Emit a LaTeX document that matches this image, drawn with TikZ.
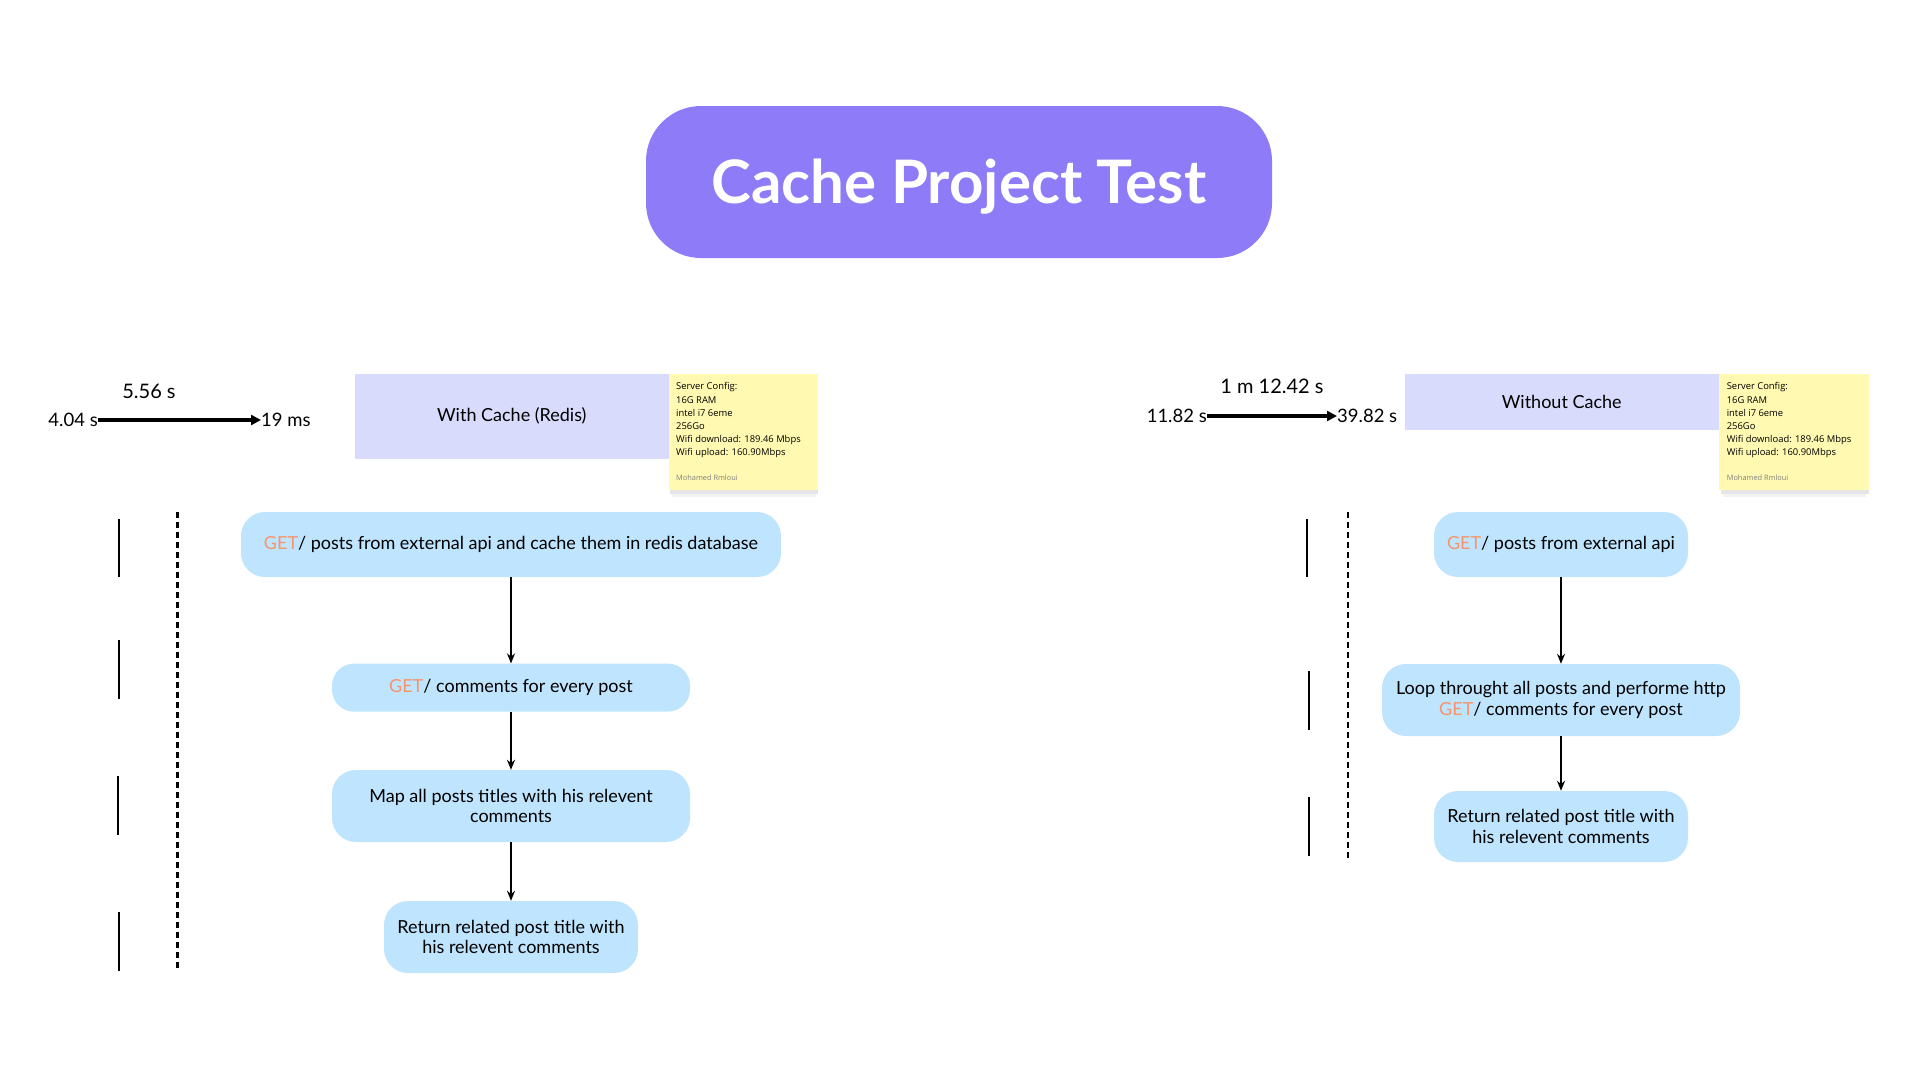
\documentclass[tikz,border=0pt]{standalone}
\usepackage{fontspec}
\setmainfont{Lato}
\newfontfamily\notefont{Open Sans}
\usetikzlibrary{arrows.meta}
\definecolor{titlepurple}{HTML}{8E7BF8}
\definecolor{lavender}{HTML}{D9DBFC}
\definecolor{flowblue}{HTML}{BFE4FD}
\definecolor{noteyellow}{HTML}{FFF9B1}
\definecolor{getorange}{HTML}{F6956B}
\newcommand{\getw}{\textcolor{getorange}{GET}}
\begin{document}
\begin{tikzpicture}[x=1pt,y=-1pt,
  flowbox/.style={fill=flowblue, rounded corners=24pt, align=center, inner sep=0pt, font=\fontsize{18}{20.5}\selectfont},
  flowarrow/.style={-{Stealth[length=10pt,width=8pt]}, line width=2.3pt},
  timearrow/.style={-{Triangle[length=10pt,width=10pt]}, line width=3.2pt},
  timelabel/.style={inner sep=0pt, font=\fontsize{18.5}{20}\selectfont},
  totallabel/.style={inner sep=0pt, font=\fontsize{20}{22}\selectfont},
  bar/.style={line width=2.8pt},
  dashline/.style={line width=2.2pt, dash pattern=on 6pt off 4pt},
  header/.style={fill=lavender, inner sep=0pt, font=\fontsize{18}{20}\selectfont},
  note/.style={fill=noteyellow, inner sep=0pt},
  notetext/.style={inner sep=0pt, align=left, font=\notefont\fontsize{9.4}{13.2}\selectfont, anchor=north west},
  signature/.style={inner sep=0pt, font=\notefont\fontsize{7.4}{8}\selectfont, text=black!50, anchor=west},
]
\useasboundingbox (0,0) rectangle (1920,1080);
\fill[white] (0,0) rectangle (1920,1080);

% title
\node[fill=titlepurple, rounded corners=55pt, minimum width=626pt, minimum height=152pt,
      inner sep=0pt, text=white, text height=43pt, text depth=0pt,
      font=\bfseries\fontsize{60}{62}\selectfont] (title) at (959,182) {Cache Project Test};

% ---------- left column ----------
\node[totallabel] (ltotal) at (149,391) {5.56 s};
\node[timelabel, anchor=east] (lstart) at (98,420) {4.04 s};
\node[timelabel, anchor=west] (lend) at (261,420) {19 ms};
\draw[timearrow] (lstart.east) -- (lend.west);

\node[header, minimum width=313.6pt, minimum height=85.5pt] (lhead) at (511.8,416.25) {With Cache (Redis)};
\fill[black!10] (670,487) rectangle (818,494);
\fill[black!5] (672,494) rectangle (816,497);
\node[note, minimum width=149.4pt, minimum height=116.5pt] (lnote) at (743.3,431.75) {};
\node[notetext] (lnotetxt) at (676,382.5) {Server Config:\\16G RAM\\intel i7 6eme\\256Go\\Wifi download: 189.46 Mbps\\Wifi upload: 160.90Mbps};
\node[signature] (lsig) at (676,477.6) {Mohamed Rmloui};

\draw[bar] (119,519) -- (119,577);
\draw[bar] (119,640) -- (119,699);
\draw[bar] (118,776) -- (118,835);
\draw[bar] (119,912) -- (119,971);
\draw[dashline] (177.5,512) -- (177.5,971);

\node[flowbox, minimum width=540pt, minimum height=65pt] (l1) at (511,544.5) {\getw/ posts from external api and cache them in redis database};
\node[flowbox, rounded corners=22pt, minimum width=358pt, minimum height=48pt] (l2) at (511,687.6) {\getw/ comments for every post};
\node[flowbox, minimum width=358pt, minimum height=72pt] (l3) at (511,806) {Map all posts titles with his relevent\\comments};
\node[flowbox, minimum width=254pt, minimum height=72pt] (l4) at (511,937) {Return related post title with\\his relevent comments};
\draw[flowarrow] (l1.south) -- (l2.north);
\draw[flowarrow] (l2.south) -- (l3.north);
\draw[flowarrow] (l3.south) -- (l4.north);

% ---------- right column ----------
\node[totallabel] (rtotal) at (1272,386) {1 m 12.42 s};
\node[timelabel, anchor=east] (rstart) at (1207,416) {11.82 s};
\node[timelabel, anchor=west] (rend) at (1337,416) {39.82 s};
\draw[timearrow] (rstart.east) -- (rend.west);

\node[header, minimum width=314.5pt, minimum height=56.5pt] (rhead) at (1561.75,401.75) {Without Cache};
\fill[black!10] (1721,487) rectangle (1868.6,494);
\fill[black!5] (1723,494) rectangle (1866,497);
\node[note, minimum width=149.6pt, minimum height=116.5pt] (rnote) at (1793.8,431.75) {};
\node[notetext] (rnotetxt) at (1726.6,382.5) {Server Config:\\16G RAM\\intel i7 6eme\\256Go\\Wifi download: 189.46 Mbps\\Wifi upload: 160.90Mbps};
\node[signature] (rsig) at (1726.6,477.6) {Mohamed Rmloui};

\draw[bar] (1307,519) -- (1307,577);
\draw[bar] (1309,671) -- (1309,730);
\draw[bar] (1309,797) -- (1309,856);
\draw[dashline] (1348,512) -- (1348,862);

\node[flowbox, minimum width=254pt, minimum height=65pt] (r1) at (1561,544.5) {\getw/ posts from external api};
\node[flowbox, minimum width=358pt, minimum height=72pt] (r2) at (1561,700) {Loop throught all posts and performe http\\\getw/ comments for every post};
\node[flowbox, minimum width=254pt, minimum height=71pt] (r3) at (1561,826.5) {Return related post title with\\his relevent comments};
\draw[flowarrow] (r1.south) -- (r2.north);
\draw[flowarrow] (r2.south) -- (r3.north);
\end{tikzpicture}
\end{document}
